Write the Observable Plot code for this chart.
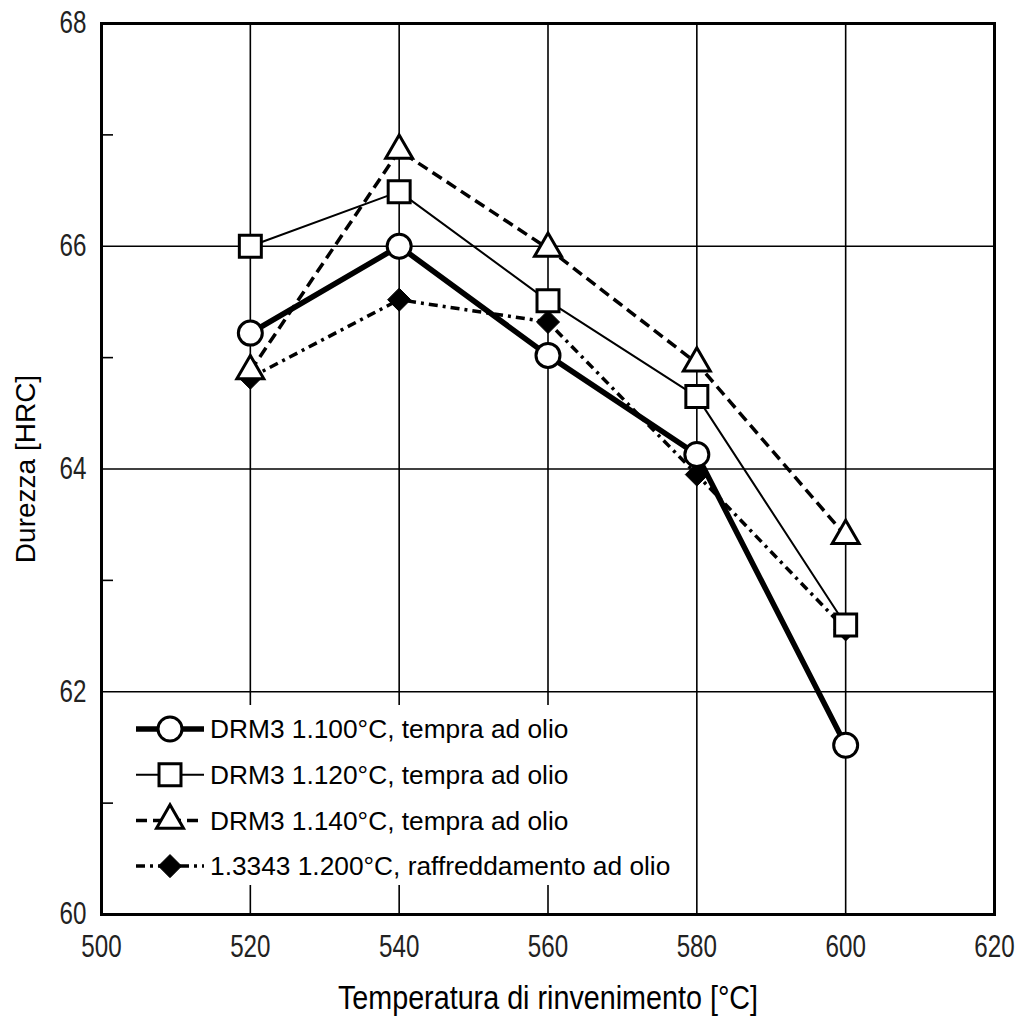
<!DOCTYPE html>
<html>
<head>
<meta charset="utf-8">
<script src="https://cdn.jsdelivr.net/npm/d3@7"></script>
<script src="https://cdn.jsdelivr.net/npm/@observablehq/plot@0.6"></script>
<style>
  html, body { margin: 0; padding: 0; background: #fff; }
  #chart { width: 1024px; height: 1020px; }
</style>
</head>
<body>
<div id="chart"></div>
<script>
// ---- data ----
const temperatures = [520, 540, 560, 580, 600];
const drm3_1100 = [65.22, 66.0, 65.02, 64.13, 61.52];
const drm3_1120 = [66.0, 66.49, 65.51, 64.65, 62.6];
const drm3_1140 = [64.88, 66.86, 65.98, 64.95, 63.4];
const steel_13343 = [64.82, 65.52, 65.32, 63.95, 62.56];
const seriesLabels = [
  "DRM3 1.100°C, tempra ad olio",
  "DRM3 1.120°C, tempra ad olio",
  "DRM3 1.140°C, tempra ad olio",
  "1.3343 1.200°C, raffreddamento ad olio"
];
const xTicks = [500, 520, 540, 560, 580, 600, 620];
const yTicks = [60, 62, 64, 66, 68];
const yMinorTicks = [61, 63, 65, 67];
const xTitle = "Temperatura di rinvenimento [°C]";
const yTitle = "Durezza [HRC]";

// ---- styles ----
const FONT = "'Liberation Sans', Arial, sans-serif";
const styles = [
  {symbol: "circle", r: 12, strokeWidth: 5.5, dash: null, fill: "white", sw: 3},
  {symbol: "square", r: 12.4, strokeWidth: 2, dash: null, fill: "white", sw: 3},
  {symbol: "triangle", r: 10, strokeWidth: 3.5, dash: "11,6", fill: "white", sw: 3},
  {symbol: "diamond2", r: 10.4, strokeWidth: 3.5, dash: "9,5,3,5", fill: "black", sw: 1}
];
const seriesValues = [drm3_1100, drm3_1120, drm3_1140, steel_13343];
const rows = seriesValues.map((vals, i) => temperatures.map((t, j) => ({t, v: vals[j], s: i})));

const order = [3, 2, 1, 0];
const lineMarks = order.map(i => Plot.line(rows[i], {
  x: "t", y: "v", stroke: "black", strokeWidth: styles[i].strokeWidth,
  strokeDasharray: styles[i].dash, strokeLinejoin: "miter", strokeLinecap: "butt"
}));
const dotMarks = order.map(i => Plot.dot(rows[i], {
  x: "t", y: "v", symbol: () => styles[i].symbol, r: styles[i].r,
  fill: styles[i].fill, stroke: "black", strokeWidth: styles[i].sw
}));

const chart = Plot.plot({
  width: 1024,
  height: 1020,
  marginLeft: 101,
  marginRight: 30,
  marginTop: 23,
  marginBottom: 106,
  style: {background: "white", color: "black"},
  x: {domain: [500, 620], axis: null, label: null},
  y: {domain: [60, 68], axis: null, label: null},
  symbol: {type: "identity"},
  marks: [
    Plot.gridX([520, 540, 560, 580, 600], {stroke: "black", strokeOpacity: 1, strokeWidth: 1.6}),
    Plot.gridY([62, 64, 66], {stroke: "black", strokeOpacity: 1, strokeWidth: 1.6}),
    Plot.axisY({ticks: yMinorTicks, tickSize: -12, tickFormat: () => "", strokeWidth: 1.6, label: null}),
    Plot.axisY({ticks: yTicks, tickSize: 0, tickPadding: 15, fontSize: 31, fontFamily: FONT, fill: "#222", tickFormat: d => d, label: null, className: "narrow"}),
    Plot.axisX({ticks: xTicks, tickSize: 0, tickPadding: 20, fontSize: 31, fontFamily: FONT, fill: "#222", tickFormat: d => d, label: null, className: "narrow"}),
    Plot.text([xTitle], {frameAnchor: "bottom", dy: 84, lineAnchor: "middle", textAnchor: "middle", fontSize: 34, fontFamily: FONT, fill: "black", className: "narrow2"}),
    Plot.text([yTitle], {frameAnchor: "left", dx: -75, rotate: -90, textAnchor: "middle", lineAnchor: "middle", fontSize: 28, fontFamily: FONT, fill: "black"}),
    ...lineMarks,
    ...dotMarks,
    Plot.frame({stroke: "black", strokeWidth: 3})
  ]
});
document.getElementById("chart").appendChild(chart);

// condensed look for tick labels and the x title (horizontal squeeze)
function squeeze(sel, k) {
  d3.select(chart).selectAll(sel).each(function() {
    let t = this.getAttribute("transform");
    if (!t) {
      const x = +this.getAttribute("x") || 0, y = +this.getAttribute("y") || 0;
      this.removeAttribute("x"); this.removeAttribute("y");
      t = `translate(${x},${y})`;
    }
    this.setAttribute("transform", t + ` scale(${k},1)`);
  });
}
squeeze(".narrow text", 0.78);
squeeze(".narrow2 text", 0.845);

// ---- legend (inside the plot area, white box masking gridlines) ----
const svg = d3.select(chart);
const lg = svg.append("g").attr("transform", "translate(130,705)");
lg.append("rect").attr("width", 560).attr("height", 180).attr("fill", "white").attr("stroke", "none");
const d3sym = {circle: d3.symbolCircle, square: d3.symbolSquare, triangle: d3.symbolTriangle, diamond2: d3.symbolDiamond2};
seriesLabels.forEach((label, i) => {
  const st = styles[i];
  const cy = 24 + i * 45.7;
  const g = lg.append("g").attr("transform", `translate(0,${cy})`);
  g.append("line").attr("x1", 6).attr("x2", 74).attr("y1", 0).attr("y2", 0)
    .attr("stroke", "black").attr("stroke-width", st.strokeWidth)
    .attr("stroke-dasharray", st.dash);
  g.append("path").attr("transform", "translate(40,0)")
    .attr("d", d3.symbol(d3sym[st.symbol], Math.PI * st.r * st.r)())
    .attr("fill", st.fill).attr("stroke", "black").attr("stroke-width", st.sw);
  g.append("text").attr("x", 80).attr("y", 0).attr("dy", "0.35em")
    .attr("text-anchor", "start")
    .attr("font-family", FONT).attr("font-size", 26.3).attr("fill", "black")
    .text(label);
});
</script>
</body>
</html>
